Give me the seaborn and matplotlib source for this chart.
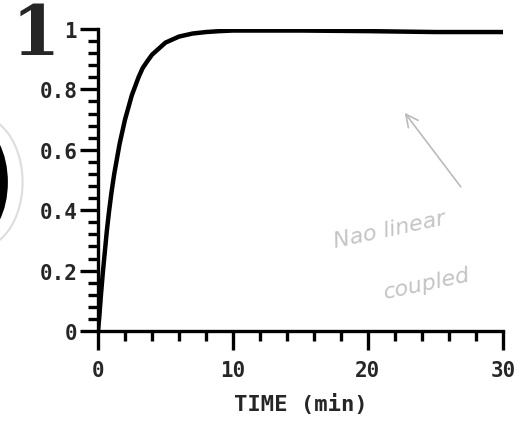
import numpy as np
import pandas as pd
import matplotlib
matplotlib.use("Agg")
import matplotlib.pyplot as plt
import seaborn as sns
from matplotlib.patches import Ellipse
from matplotlib.ticker import MultipleLocator

# curve
time_min = [0, 0.1, 0.2, 0.35, 0.5, 0.65, 0.8, 1.0, 1.2, 1.4, 1.6, 1.8, 2.0,
            2.25, 2.5, 2.75, 3.0, 3.3, 3.6, 4.0, 4.5, 5.0, 5.5, 6.0, 7.0, 8.0,
            9.0, 10, 15, 20, 25, 30]
fraction = [0, 0.05, 0.11, 0.19, 0.26, 0.33, 0.39, 0.46, 0.52, 0.57, 0.62, 0.66,
            0.70, 0.74, 0.78, 0.81, 0.84, 0.87, 0.89, 0.915, 0.935, 0.955, 0.965,
            0.975, 0.985, 0.99, 0.993, 0.995, 0.995, 0.993, 0.99, 0.99]
y_ticks = [0, 0.2, 0.4, 0.6, 0.8, 1]
y_labels = ["0", "0.2", "0.4", "0.6", "0.8", "1"]
x_ticks = [0, 10, 20, 30]
x_labels = ["0", "10", "20", "30"]

df = pd.DataFrame({"t": time_min, "f": fraction})

sns.set_style("ticks")
plt.rcParams["font.family"] = ["DejaVu Sans Mono", "DejaVu Sans"]

fig = plt.figure(figsize=(5.25, 4.27), dpi=100)
ax = fig.add_axes([0.1867, 0.2225, 0.958 - 0.1867, 0.9297 - 0.2225])

sns.lineplot(data=df, x="t", y="f", ax=ax, color="black", linewidth=3.2)

ax.set_xlim(0, 30)
ax.set_ylim(0, 1)
ax.set_xticks(x_ticks)
ax.set_xticklabels(x_labels)
ax.set_yticks(y_ticks)
ax.set_yticklabels(y_labels)
ax.xaxis.set_minor_locator(MultipleLocator(2))
ax.yaxis.set_minor_locator(MultipleLocator(0.04))

ax.tick_params(which="major", length=13, width=2.4, direction="out", color="black")
ax.tick_params(which="minor", length=7, width=2.4, direction="out", color="black")
ax.tick_params(axis="x", which="major", length=14, pad=7, labelsize=15)
ax.tick_params(axis="y", which="major", pad=2, labelsize=15)
for lab in ax.get_xticklabels() + ax.get_yticklabels():
    lab.set_fontweight("bold")

for s in ["top", "right"]:
    ax.spines[s].set_visible(False)
for s in ["left", "bottom"]:
    ax.spines[s].set_linewidth(2.4)
    ax.spines[s].set_color("black")

ax.set_xlabel("TIME (min)", fontsize=16, fontweight="bold", labelpad=9)
ax.set_ylabel("")

# panel number
fig.text(0.022, 0.995, "1", fontsize=50, fontweight="bold", family="DejaVu Serif",
         va="top", ha="left")

# punch hole at the left edge of the scan
fig.patches.append(Ellipse((-0.042, 0.571), 0.17, 0.31, transform=fig.transFigure,
                           facecolor="none", edgecolor="#dddddd", linewidth=1.5))
fig.patches.append(Ellipse((-0.042, 0.571), 0.114, 0.258, transform=fig.transFigure,
                           facecolor="black", edgecolor="none"))

# faint handwriting note
ax.annotate("", xy=(22.6, 0.73), xytext=(27.0, 0.47),
            arrowprops=dict(arrowstyle="->", color="#bbbbbb", lw=1.2,
                            mutation_scale=22))
ax.text(17.3, 0.28, "Nao linear", fontsize=16, color="#c4c4c4",
        family="DejaVu Sans", fontstyle="italic", rotation=12)
ax.text(21.0, 0.11, "coupled", fontsize=16, color="#c4c4c4",
        family="DejaVu Sans", fontstyle="italic", rotation=12)

fig.savefig("out.png", dpi=100)
